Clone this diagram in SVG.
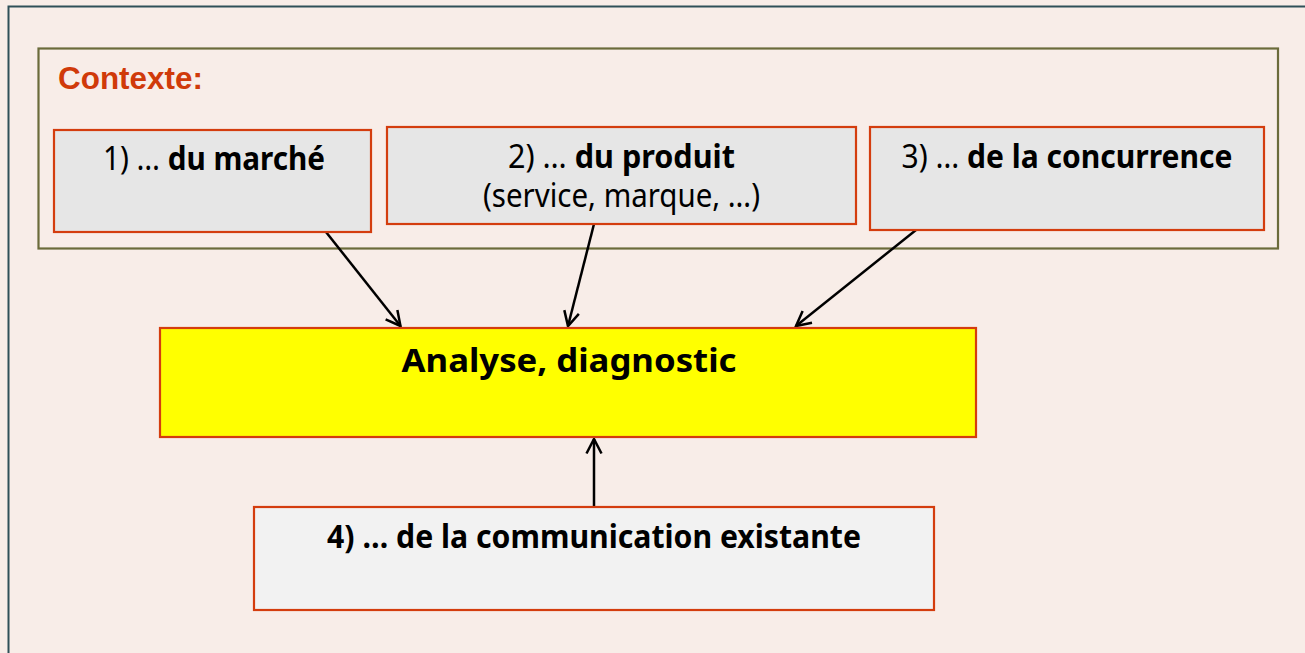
<svg xmlns="http://www.w3.org/2000/svg" width="1305" height="653" viewBox="0 0 1305 653">
<defs>
<style>
.box{fill:#E6E6E6;stroke:#D43D0E;stroke-width:2.2}
.t{font-family:"Noto Sans","Open Sans",sans-serif;font-size:32px;fill:#000;text-anchor:middle}
.b{font-weight:bold}
.con{stroke:#000;stroke-width:2.5;fill:none;marker-end:url(#ah)}
</style>
<marker id="ah" viewBox="0 0 18 18" refX="15.5" refY="9" markerWidth="18" markerHeight="18" markerUnits="userSpaceOnUse" orient="auto">
<path d="M1,1.5 L15.5,9 L1,16.5" fill="none" stroke="#000" stroke-width="2.5"/>
</marker>
</defs>
<rect x="0" y="0" width="1305" height="653" fill="#F8EDE8"/>
<rect x="8.5" y="6.5" width="1330" height="700" fill="none" stroke="#2E5058" stroke-width="2"/>
<g id="contexte">
<rect x="38.5" y="48.5" width="1239.5" height="200" fill="none" stroke="#6B6B3A" stroke-width="2.2"/>
<text x="58" y="89" font-family="'Liberation Sans',Arial,sans-serif" font-weight="bold" font-size="32" fill="#D03A0A" textLength="145" lengthAdjust="spacingAndGlyphs">Contexte:</text>
</g>
<g id="connectors">
<line class="con" x1="326" y1="232" x2="400.5" y2="326"/>
<line class="con" x1="594" y1="224" x2="568" y2="326"/>
<line class="con" x1="916" y1="230" x2="796" y2="326"/>
<line class="con" x1="594" y1="507" x2="594" y2="439"/>
</g>
<g id="marche">
<rect class="box" x="54" y="130" width="317" height="102"/>
<text class="t" x="214" y="170" textLength="222" lengthAdjust="spacingAndGlyphs">1) … <tspan class="b">du marché</tspan></text>
</g>
<g id="produit">
<rect class="box" x="387" y="127" width="469" height="97"/>
<text class="t" x="621.5" y="168" font-size="31" textLength="227" lengthAdjust="spacingAndGlyphs">2) … <tspan class="b">du produit</tspan></text>
<text class="t" x="621.5" y="207" font-size="30" textLength="277" lengthAdjust="spacingAndGlyphs">(service, marque, …)</text>
</g>
<g id="concurrence">
<rect class="box" x="870" y="127" width="394" height="103"/>
<text class="t" x="1067" y="168" textLength="331" lengthAdjust="spacingAndGlyphs">3) … <tspan class="b">de la concurrence</tspan></text>
</g>
<g id="analyse">
<rect x="160" y="328" width="816" height="109" fill="#FFFF00" stroke="#D43D0E" stroke-width="2.2"/>
<text class="t b" x="569" y="372" font-size="36" textLength="335" lengthAdjust="spacingAndGlyphs">Analyse, diagnostic</text>
</g>
<g id="communication">
<rect x="254" y="507" width="680" height="103" fill="#F2F2F2" stroke="#D43D0E" stroke-width="2.2"/>
<text class="t b" x="594" y="548" textLength="534" lengthAdjust="spacingAndGlyphs">4) … de la communication existante</text>
</g>
</svg>
